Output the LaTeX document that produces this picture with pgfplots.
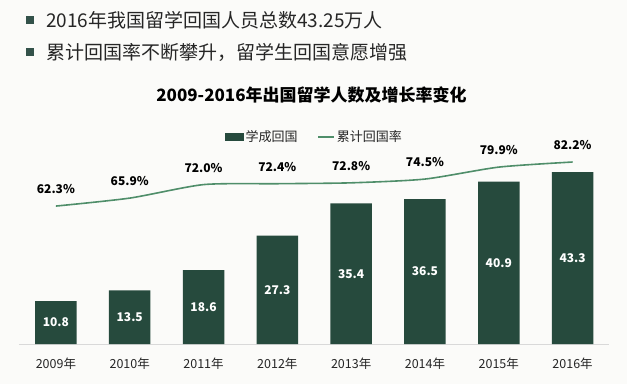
\documentclass[border=0pt]{standalone}
\usepackage{pgfplots}
\pgfplotsset{compat=1.18}
\usepackage{fontspec}
\setmainfont{Noto Sans CJK SC}
\definecolor{barc}{HTML}{264A3D}
\definecolor{linec}{HTML}{4F8E6A}
\definecolor{txt}{HTML}{262626}
\definecolor{bul}{HTML}{33524A}
\definecolor{bg}{HTML}{FBFBF9}
\begin{document}
\begin{tikzpicture}[x=1pt,y=1pt]
% picture frame: axis box south west corner is at (0,0); picture spans (-19,-40) to (608,344)
\fill[bg] (-19,-40) rectangle (608,344);
\useasboundingbox (-19,-40) rectangle (608,344);
% bullet lines (y_top -> 344 - y_top)
\fill[bul] (7,320.5) rectangle (15,328.5);
\fill[bul] (7,288) rectangle (15,296);
\node[anchor=west, inner sep=0, text=txt, font=\fontsize{19}{19}\selectfont] at (27,323.5) {2016年我国留学回国人员总数43.25万人};
\node[anchor=west, inner sep=0, text=txt, font=\fontsize{19}{19}\selectfont] at (27,292) {累计回国率不断攀升，留学生回国意愿增强};
% title
\node[inner sep=0, text=black, font=\bfseries\fontsize{17}{17}\selectfont] at (292.5,249) {2009-2016年出国留学人数及增长率变化};

\begin{axis}[
  scale only axis,
  width=590.5pt, height=198.5pt,
  xmin=-0.5, xmax=7.5, ymin=0, ymax=50,
  axis y line=none, axis x line*=bottom,
  x axis line style={draw=black!15, line width=0.8pt},
  xtick=data,
  xticklabels={2009年,2010年,2011年,2012年,2013年,2014年,2015年,2016年},
  xtick style={draw=none},
  xticklabel style={font=\fontsize{12.5}{12.5}\selectfont, text=txt, yshift=-6pt},
  ybar, bar width=41.5pt,
  clip=false,
  /pgf/number format/assume math mode=true,
]
\addplot[fill=barc, draw=none,
  nodes near coords={\pgfmathprintnumber[fixed,precision=1,fixed zerofill]{\pgfplotspointmeta}},
  visualization depends on=y \as \rawy,
  every node near coord/.append style={font=\bfseries\fontsize{12}{12}\selectfont, text=white, anchor=center, inner sep=0pt, shift={(axis direction cs:0,-\rawy/2)}}]
  coordinates {(0,10.8) (1,13.5) (2,18.6) (3,27.3) (4,35.4) (5,36.5) (6,40.9) (7,43.3)};
\end{axis}

\begin{axis}[
  scale only axis,
  width=590.5pt, height=198.5pt,
  xmin=-0.5, xmax=7.5, ymin=0, ymax=89.66,
  hide axis, clip=false,
  /pgf/number format/assume math mode=true,
  legend style={at={(0.349,1.043)}, anchor=west, draw=none, fill=none,
    font=\fontsize{13}{13}\selectfont, text=txt, inner sep=0pt,
    /tikz/every even column/.append style={column sep=18pt}},
  legend columns=-1,
]
\addlegendimage{legend image code/.code={\fill[barc] (0pt,-3.5pt) rectangle (18pt,3.5pt);}}
\addlegendentry{学成回国}
\addplot[linec, line width=1.6pt, smooth, tension=0.4,
  legend image code/.code={\draw[linec, line width=1.2pt] (0pt,0pt) -- (16pt,0pt);},
  nodes near coords={\pgfmathprintnumber[fixed,precision=1,fixed zerofill]{\pgfplotspointmeta}\%},
  every node near coord/.append style={font=\bfseries\fontsize{12}{12}\selectfont, text=black, anchor=south, inner sep=0pt, yshift=11.5pt}]
  coordinates {(0,62.3) (1,65.9) (2,72.0) (3,72.4) (4,72.8) (5,74.5) (6,79.9) (7,82.2)};
\addlegendentry{累计回国率}
\end{axis}
\end{tikzpicture}
\end{document}
